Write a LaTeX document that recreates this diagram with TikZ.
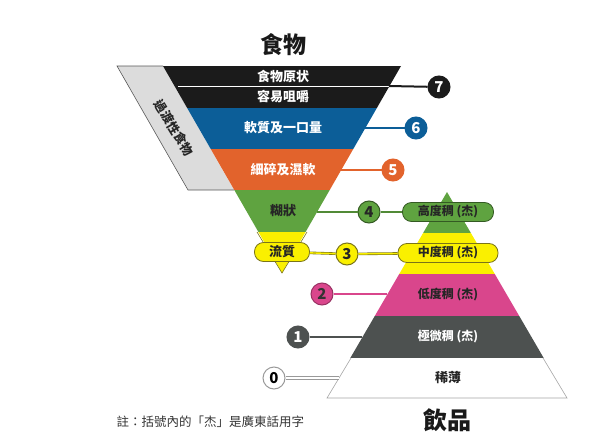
\documentclass[tikz,border=0pt]{standalone}
\usepackage{fontspec}
\setmainfont{Noto Sans CJK TC}
\usepackage{xcolor}
\usetikzlibrary{positioning,calc}

\definecolor{foodblack}{HTML}{1B1B1B}
\definecolor{foodblue}{HTML}{0C5E98}
\definecolor{foodorange}{HTML}{E2632C}
\definecolor{foodgreen}{HTML}{5FA340}
\definecolor{foodyellow}{HTML}{FAF000}
\definecolor{drinkpink}{HTML}{D9468C}
\definecolor{drinkgray}{HTML}{4D5150}
\definecolor{transgray}{HTML}{DCDCDC}
\definecolor{olivedark}{HTML}{7A7418}

\begin{document}
\begin{tikzpicture}[x=1pt, y=-1pt,
        lbl/.style={font=\fontsize{13}{15}\selectfont\bfseries, text=white, inner sep=1pt},
        dlbl/.style={lbl, text=black!85},
        plbl/.style={lbl, font=\fontsize{12}{14}\selectfont\bfseries},
        num/.style={circle, minimum size=22pt, inner sep=0pt, line width=1pt,
                    font=\fontsize{15}{15}\selectfont\bfseries},
        link/.style={line width=2pt},
        tab/.style={rounded corners=9pt, minimum height=19pt, inner sep=2pt, line width=0.8pt,
                    text=black!85, font=\fontsize{12}{14}\selectfont\bfseries},
        title/.style={font=\fontsize{23}{25}\selectfont\bfseries, text=black!90},
    ]
        \useasboundingbox (0,0) rectangle (600,447);

        % transitional foods band
        \fill[transgray] (117,66) -- (163,66) -- (234,190) -- (188,190) -- cycle;
        \draw[gray!70!black, line width=0.6pt] (163,66) -- (117,66) -- (188,190) -- (234,190);
        \node[font=\fontsize{12.5}{13}\selectfont\bfseries, text=black!85, rotate=-59, inner sep=0pt]
            (trans) at (174,128) {過渡性食物};

        % food funnel
        \begin{scope}
            \clip (163,66) -- (401,66) -- (282,273) -- cycle;
            \fill[foodblack]  (150,66)  rectangle (420,108);
            \fill[foodblue]   (150,108) rectangle (420,149);
            \fill[foodorange] (150,149) rectangle (420,190);
            \fill[foodgreen]  (150,190) rectangle (420,232);
            \fill[foodyellow] (150,232) rectangle (420,274);
        \end{scope}
        \draw[olivedark, line width=0.6pt] (257,232) -- (282,273) -- (307,232);
        \draw[white, line width=1pt] (178,86) -- (389,86);

        \node[title] (food) at (283,45) {食物};
        \node[lbl]  (raw)    at (283,76)  {食物原状};
        \node[lbl]  (chew)   at (283,97)  {容易咀嚼};
        \node[lbl]  (soft)   at (283,128) {軟質及一口量};
        \node[lbl]  (minced) at (283,170) {細碎及濕軟};
        \node[dlbl] (puree)  at (283,211) {糊狀};
        \node[tab, fill=foodyellow, draw=olivedark, minimum width=55pt,
              font=\fontsize{13}{15}\selectfont\bfseries] (liquid) at (282,252) {流質};

        % drink pyramid
        \begin{scope}
            \clip (447,192) -- (567,398) -- (327,398) -- cycle;
            \fill[foodgreen]  (320,190) rectangle (580,233);
            \fill[foodyellow] (320,233) rectangle (580,274);
            \fill[drinkpink]  (320,274) rectangle (580,316);
            \fill[drinkgray]  (320,316) rectangle (580,358);
            \fill[white]      (320,358) rectangle (580,400);
        \end{scope}
        \draw[gray!70, line width=0.6pt] (351,358) -- (327,398) -- (567,398) -- (543,358);

        \node[tab, fill=foodgreen, draw=foodgreen!55!black, minimum width=91pt]
            (high) at (448,212) {高度稠 (杰)};
        \node[tab, fill=foodyellow, draw=olivedark, minimum width=100pt]
            (mid) at (448,253) {中度稠 (杰)};
        \node[plbl, text=black!85] (low)    at (448,295) {低度稠 (杰)};
        \node[plbl]                (slight) at (448,337) {極微稠 (杰)};
        \node[dlbl]                (thin)   at (448,378) {稀薄};
        \node[title, font=\fontsize{24}{26}\selectfont\bfseries] (drink) at (447,420) {飲品};

        % level numbers
        \node[num, fill=foodblack, draw=foodblack, text=white]     (n7) at (439,87)  {7};
        \node[num, fill=foodblue, draw=foodblue, text=white]       (n6) at (416,128) {6};
        \node[num, fill=foodorange, draw=foodorange, text=white]   (n5) at (393,170) {5};
        \node[num, fill=foodgreen, draw=foodgreen!55!black, text=black!85] (n4) at (369,212) {4};
        \node[num, fill=foodyellow, draw=olivedark, text=black!85] (n3) at (347,254) {3};
        \node[num, fill=drinkpink, draw=drinkpink!70!black, text=black!80] (n2) at (322,294) {2};
        \node[num, fill=drinkgray, draw=drinkgray, text=white]     (n1) at (298,337) {1};
        \node[num, fill=white, draw=gray!80, text=black]           (n0) at (274,378) {0};

        \coordinate (e7) at (389,86);
        \coordinate (e6) at (365,128);
        \coordinate (e5) at (341,170);
        \coordinate (e4) at (317,212);
        \coordinate (e2) at (387,294);
        \coordinate (e1) at (362,337);
        \coordinate (e0) at (339,378);

        \draw[link, foodblack]  (e7) -- (n7);
        \draw[link, foodblue]   (e6) -- (n6);
        \draw[link, foodorange] (e5) -- (n5);
        \draw[link, foodgreen!85!black] (e4) -- (n4) -- (high);
        \draw[line width=0.6pt, olivedark, double=foodyellow, double distance=1.4pt]
            (liquid) -- (n3) -- (mid);
        \draw[link, drinkpink]  (n2) -- (e2);
        \draw[link, drinkgray]  (n1) -- (e1);
        \draw[line width=0.8pt, gray!80, double=white, double distance=1.6pt] (n0) -- (e0);

        \node[anchor=west, font=\fontsize{12.5}{14}\selectfont, text=black!80]
            (note) at (113,422) {註：括號內的「杰」是廣東話用字};
    \end{tikzpicture}
\end{document}
